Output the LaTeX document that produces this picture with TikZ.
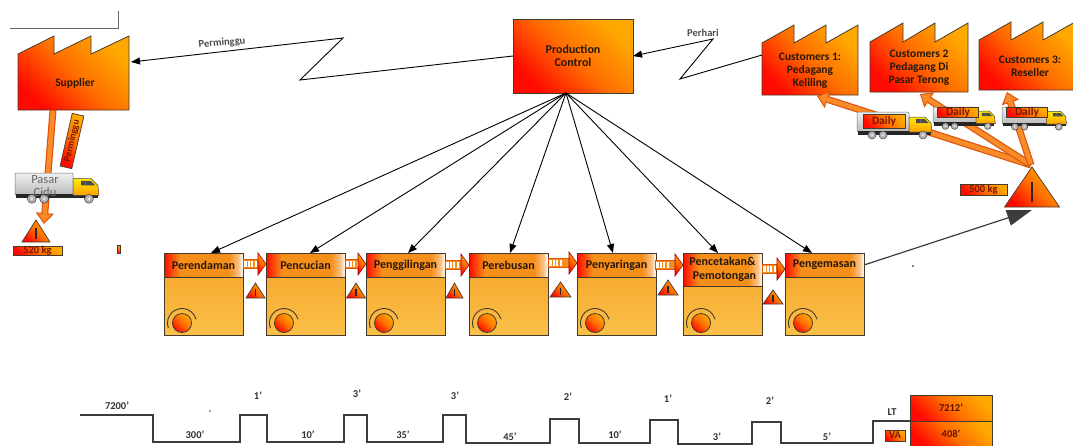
\documentclass[tikz,border=0pt]{standalone}
\usepackage{fontspec}
\setmainfont{Carlito}
\usetikzlibrary{arrows.meta,calc}

\definecolor{fred}{RGB}{255,10,0}
\definecolor{forange}{RGB}{255,110,0}
\definecolor{fyellow}{RGB}{255,168,0}
\definecolor{hdrorange}{RGB}{246,142,26}
\definecolor{bodytop}{RGB}{246,162,40}
\definecolor{bodybot}{RGB}{250,192,72}
\definecolor{ink}{RGB}{40,24,12}
\definecolor{edge}{RGB}{70,58,45}
\definecolor{shipfill}{RGB}{248,140,40}
\definecolor{shipedge}{RGB}{222,84,12}
\definecolor{labred}{RGB}{120,22,0}
\definecolor{lineink}{RGB}{60,60,60}

% header band: red on the left, orange, pale at the right edge
\pgfdeclarehorizontalshading{hdrshade}{100bp}{color(0bp)=(fred); color(25bp)=(fred); color(35bp)=(hdrorange); color(66bp)=(hdrorange); color(72bp)=(hdrorange!55!white); color(75bp)=(white); color(100bp)=(white)}

\tikzset{
  warm/.style={left color=fred, right color=fyellow, middle color=forange, shading angle=135},
  factory/.style={warm, draw=edge, line width=0.8pt},
  flabel/.style={font=\fontsize{11.5}{13}\selectfont\bfseries, text=ink, align=center, inner sep=0pt},
  pcbox/.style={warm, draw=edge, line width=0.8pt, minimum width=120pt, minimum height=74pt, inner sep=0pt, outer sep=0pt, font=\fontsize{12}{13}\selectfont\bfseries, text=ink, align=center},
  info/.style={draw=black, line width=0.9pt, -{Triangle[length=9pt,width=7pt]}},
  infolab/.style={font=\fontsize{10.5}{12}\selectfont\bfseries, text=black!70, inner sep=0pt},
  pbody/.style={draw=edge, line width=0.8pt, top color=bodytop, bottom color=bodybot, minimum width=79pt, minimum height=82pt, inner sep=0pt, outer sep=0pt},
  phead/.style={draw=edge, line width=0.8pt, shading=hdrshade, minimum width=79pt, inner sep=0pt, outer sep=0pt, font=\fontsize{12}{13.5}\selectfont\bfseries, text=ink, align=center},
  opdot/.style={circle, warm, draw=edge, line width=0.8pt, minimum size=19pt, inner sep=0pt},
  oparc/.style={draw=edge, line width=0.9pt},
  ship/.style={draw=shipedge, line width=7pt, -{Triangle[length=11pt,width=18pt,fill=shipfill,line width=1pt]}},
  shipin/.style={draw=shipfill, line width=4.6pt},
  tagbox/.style={warm, draw=edge, line width=0.7pt, inner sep=0pt, outer sep=0pt, text=labred, font=\fontsize{11.5}{12}\selectfont\bfseries},
  tline/.style={draw=lineink, line width=1.2pt},
  tlab/.style={font=\fontsize{10.5}{11}\selectfont\bfseries, text=black!80, inner sep=0pt},
  ltbox/.style={warm, draw=edge, line width=0.8pt, minimum width=82pt, inner sep=0pt, outer sep=0pt, font=\fontsize{10.5}{11}\selectfont\bfseries, text=labred!80!black},
  pics/truck/.style={code={
    \draw[draw=black!55, line width=0.5pt, rounded corners=1.2pt, top color=gray!12, bottom color=gray!55] (0,0) rectangle (52,-20);
    \fill[black!85] (1,-18.5) rectangle (74,-22.5);
    \draw[draw=black!75, line width=0.5pt, top color=yellow!85!orange, bottom color=orange!75!yellow] (52,-5) -- (68,-5) -- (74,-11) -- (75,-20) -- (52,-20) -- cycle;
    \fill[black!70] (59,-7) -- (67.5,-7) -- (71.5,-11) -- (59,-11) -- cycle;
    \draw[black!60, line width=0.4pt] (63,-7) -- (63,-11);
    \foreach \wx in {15,26,66} {
      \draw[black!75, line width=0.5pt, fill=gray!60] (\wx,-23) circle[radius=4];
      \fill[gray!25] (\wx,-23) circle[radius=1.5];
    }
  }}
}

% inventory triangle: apex x, apex y, base width, height
\newcommand\invtri[4]{%
  \draw[warm, draw=edge, line width=0.7pt] (#1,#2) -- ({#1+#3/2},{#2-#4}) -- ({#1-#3/2},{#2-#4}) -- cycle;
  \draw[draw=black!85, line width={max(1.2,#3/25)*1pt}] (#1,{#2-0.38*#4}) -- (#1,{#2-0.88*#4});
}

% striped push arrow between two steps: left x, right x, centre y
\newcommand\pushar[3]{%
  \draw[draw=shipedge, line width=0.6pt, fill=hdrorange] (#1,{#3+4.5}) rectangle ({#2-8},{#3-4.5});
  \foreach \k in {0,1,2,3} {
    \fill[white] ({#1+1.3+\k*3.4},{#3+3}) rectangle ({#1+3.5+\k*3.4},{#3-3});
  }
  \draw[warm, draw=red!65!black, line width=0.6pt] ({#2-8},{#3+11}) -- (#2,#3) -- ({#2-8},{#3-11}) -- cycle;
}

% process step: name, left x, label, header height
\newcommand\procstep[4]{%
  \node[pbody, anchor=north west] (#1) at (#2,-253) {};
  \node[phead, minimum height=#4pt, anchor=north west] (#1h) at (#2,-253) {#3};
  \node[opdot] (#1o) at ($(#1.south west)+(18,12)$) {};
  \draw[oparc] (#1o) ++(200:14.5pt) arc[start angle=200, end angle=15, radius=14.5pt];
}

\begin{document}
\begin{tikzpicture}[x=1pt, y=1pt]
\useasboundingbox (0,0) rectangle (1073,-445);
\clip (0,0) rectangle (1073,-445);

% frame corner at the top left
\draw[draw=black!60, line width=0.8pt] (10,-28) -- (118,-28) -- (118,-11);

% ---------- supplier and customers ----------
\draw[factory] (18,-110) -- (18,-54) -- (54,-36) -- (54,-54) -- (91,-36) -- (91,-54) -- (129,-36) -- (129,-110) -- cycle;
\node[flabel] (suplab) at (75,-83) {Supplier};
\coordinate (supE) at (131,-62);
\coordinate (supB) at (53,-110);

\draw[factory] (762,-95) -- (762,-43) -- (794,-25) -- (794,-43) -- (826,-25) -- (826,-43) -- (858,-25) -- (858,-95) -- cycle;
\node[flabel] (c1lab) at (810,-71) {Customers 1:\\Pedagang\\Keliling};
\draw[factory] (870,-92) -- (870,-42) -- (903,-23) -- (903,-42) -- (935,-23) -- (935,-42) -- (968,-23) -- (968,-92) -- cycle;
\node[flabel] (c2lab) at (919,-68) {Customers 2\\Pedagang Di\\Pasar Terong};
\draw[factory] (979,-90) -- (979,-40) -- (1011,-22) -- (1011,-40) -- (1043,-22) -- (1043,-40) -- (1075,-22) -- (1075,-90) -- cycle;
\node[flabel] (c3lab) at (1030,-66) {Customers 3:\\Reseller};
\coordinate (c1W) at (762,-55);
\coordinate (c1B) at (817,-96);
\coordinate (c2B) at (920,-94);
\coordinate (c3B) at (1007,-92);

% ---------- production control and information flows ----------
\node[pcbox] (pc) at (573,-56) {Production\\Control};

\coordinate (zz1) at (300,-80);
\coordinate (zz2) at (343,-38);
\draw[info] (pc.west) -- (zz1) -- (zz2) -- (supE);
\node[infolab, rotate=5] (pmlab) at (222,-43) {Perminggu};

\coordinate (zh1) at (680,-79);
\coordinate (zh2) at (713,-39);
\draw[info] (c1W) -- (zh1) -- (zh2) -- (pc.east);
\node[infolab] (phlab) at (703,-33) {Perhari};

% ---------- finished goods and shipments ----------
\coordinate (fgA) at (1031,-165);
\draw[ship] (fgA) -- (c1B);
\draw[shipin, shorten >=10pt, shorten <=1pt] (fgA) -- (c1B);
\draw[ship] (fgA) -- (c2B);
\draw[shipin, shorten >=10pt, shorten <=1pt] (fgA) -- (c2B);
\draw[ship] (fgA) -- (c3B);
\draw[shipin, shorten >=10pt, shorten <=1pt] (fgA) -- (c3B);

\pic (t1) at (857,-112) {truck};
\node[tagbox, minimum width=42pt, minimum height=14pt] (d1) at (884,-121) {Daily};
\pic[scale=0.83] (t2) at (933,-107) {truck};
\node[tagbox, minimum width=41pt, minimum height=8pt] (d2) at (958,-112) {Daily};
\pic[scale=0.86] (t3) at (1002,-107) {truck};
\node[tagbox, minimum width=41pt, minimum height=10pt] (d3) at (1027,-112) {Daily};

% ---------- raw material delivery ----------
\coordinate (rmT) at (44,-224);
\draw[ship] (supB) -- (rmT);
\draw[shipin, shorten >=10pt, shorten <=1pt] (supB) -- (rmT);
\node[tagbox, rotate=77, minimum width=54pt, minimum height=12pt, font=\fontsize{9.5}{10}\selectfont\bfseries] (pmtag) at (72,-141) {Perminggu};
\pic[scale=1.12] (t0) at (15,-173) {truck};
\node[font=\fontsize{12.5}{12.5}\selectfont, text=black!60, align=center, inner sep=0pt] (cidu) at (45,-186) {Pasar\\Cidu};
\invtri{36}{-220}{28}{22}
\node[tagbox, minimum width=49pt, minimum height=8pt, font=\fontsize{10.5}{10}\selectfont\bfseries] (rmq) at (37.5,-251) {520 kg};
\draw[warm, draw=edge, line width=0.6pt] (117,-245) rectangle (120,-253);

% ---------- process steps ----------
\procstep{p1}{164}{Perendaman}{24}
\procstep{p2}{266}{Pencucian}{24}
\procstep{p3}{366}{Penggilingan}{24}
\procstep{p4}{469}{Perebusan}{24}
\procstep{p5}{577}{Penyaringan}{24}
\procstep{p6}{683}{Pencetakan\&\\\hspace*{4pt}Pemotongan}{33}
\procstep{p7}{785}{Pengemasan}{24}

\pushar{243}{266}{-264}
\pushar{345}{366}{-264}
\pushar{445}{469}{-265}
\pushar{548}{577}{-263}
\pushar{655}{683}{-265}
\pushar{762}{785}{-269}

\invtri{255.5}{-283}{19}{15}
\invtri{356}{-283}{19}{15}
\invtri{454.5}{-283}{17}{15}
\invtri{560.5}{-282}{21}{15}
\invtri{668}{-280}{20}{15}
\invtri{773}{-290}{20}{14}

\foreach \p/\dx in {p1/7.5, p2/4.5, p3/2.5, p4/1.5, p5/-3.5, p6/-4.5, p7/-12.5}
  \draw[info] ([xshift=-7pt]pc.south) -- ([xshift=\dx pt]\p.north);

% to finished goods
\coordinate (fgIn) at (1032,-210);
\draw[draw=lineink, line width=1.2pt, -{Triangle[length=25pt,width=16pt]}] (p7h.east) -- (fgIn);
\invtri{1032}{-167}{55}{40}
\node[tagbox, minimum width=47pt, minimum height=11pt, font=\fontsize{10.5}{10}\selectfont\bfseries] (fgq) at (983.5,-189.5) {500 kg};

\fill[black] (913,-266) circle[radius=0.9];

% ---------- timeline ----------
\draw[tline] (80,-415) -- (153,-415) -- (153,-442) -- (240,-442) -- (240,-415) -- (267,-415) -- (267,-442)
  -- (344,-442) -- (344,-415) -- (367,-415) -- (367,-442) -- (443,-442) -- (443,-415) -- (466,-415)
  -- (466,-443) -- (550,-443) -- (550,-419) -- (579,-419) -- (579,-443) -- (650,-443) -- (650,-420)
  -- (678,-420) -- (678,-444) -- (752,-444) -- (752,-422) -- (781,-422) -- (781,-443) -- (873,-443)
  -- (873,-421) -- (910,-421);
\fill[black!70] (210,-411) circle[radius=0.8];

\node[tlab] (w0) at (117,-406) {7200'};
\node[tlab] (v1) at (195,-435) {300'};
\node[tlab] (w1) at (258,-396) {1'};
\node[tlab] (v2) at (308,-435) {10'};
\node[tlab] (w2) at (357,-394) {3'};
\node[tlab] (v3) at (403,-435) {35'};
\node[tlab] (w3) at (455,-396) {3'};
\node[tlab] (v4) at (510,-437) {45'};
\node[tlab] (w4) at (568,-397) {2'};
\node[tlab] (v5) at (615,-435) {10'};
\node[tlab] (w5) at (668,-399) {1'};
\node[tlab] (v6) at (717,-437) {3'};
\node[tlab] (w6) at (770,-401) {2'};
\node[tlab] (v7) at (827,-437) {5'};
\node[tlab] (ltlab) at (892,-412) {LT};

\node[ltbox, minimum height=26pt] (lt) at (951,-408) {7212'};
\node[ltbox, minimum height=25pt] (va) at (951,-433.5) {408'};
\node[tagbox, minimum width=20pt, minimum height=11pt, font=\fontsize{10.5}{10}\selectfont\bfseries] (vatag) at (895,-435.5) {VA};
\end{tikzpicture}
\end{document}
